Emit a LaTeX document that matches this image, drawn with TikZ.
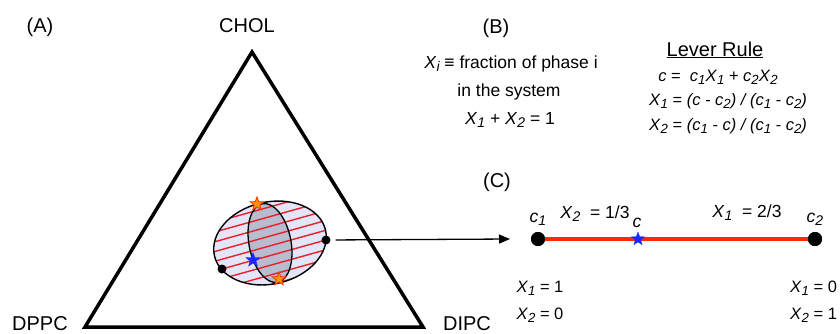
\documentclass[tikz,border=0pt]{standalone}
\usepackage{fontspec}
\setmainfont{Liberation Sans}
\usepackage{graphicx}
\usetikzlibrary{shapes.geometric,arrows.meta}
\definecolor{outerc}{RGB}{226,230,248}
\definecolor{innerc}{RGB}{184,188,207}
\definecolor{stripec}{RGB}{232,32,40}
\definecolor{tiec}{RGB}{252,42,8}
\definecolor{bluec}{RGB}{24,40,255}
\definecolor{orangec}{RGB}{255,150,0}
\definecolor{orangeedge}{RGB}{255,60,0}
\newcommand{\sbi}[1]{\raisebox{-0.38ex}{\scalebox{0.8}{\itshape #1}}}
\newcommand{\vX}[1]{\textit{X}\sbi{#1}}
\newcommand{\vc}[1]{\textit{c}\sbi{#1}}
\begin{document}
\begin{tikzpicture}[x=1pt,y=-1pt,
  biglab/.style={font=\fontsize{20}{24}\selectfont, inner sep=0pt, anchor=base},
  btext/.style={font=\fontsize{16.5}{20}\selectfont, inner sep=0pt, anchor=base},
  bltext/.style={font=\fontsize{17.5}{21}\selectfont, inner sep=0pt, anchor=base},
  ctext/.style={font=\fontsize{17.5}{21}\selectfont, inner sep=0pt, anchor=base},
  dot/.style={circle, fill=black, inner sep=0pt, minimum size=#1},
  stripe/.style={draw=stripec, line width=1.4pt},
  ostar/.style={star, star points=5, star point ratio=2.4, fill=orangec, draw=orangeedge, line width=0.9pt, minimum size=14pt, inner sep=0pt},
  bstar/.style={star, star points=5, star point ratio=2.4, fill=bluec, draw=bluec, line width=0.3pt, minimum size=#1, inner sep=0pt}
]
\useasboundingbox (0,0) rectangle (840,333);

% panel labels
\node[biglab] (labA) at (40,32) {(A)};
\node[biglab] (labB) at (496,33) {(B)};
\node[biglab] (labC) at (497,187) {(C)};

% triangle
\coordinate (tA) at (252,52);
\coordinate (tL) at (85,327);
\coordinate (tR) at (423,327);
\draw[line width=3.5pt] (tA) -- (tL) -- (tR) -- cycle;
\node[biglab] (chol) at (247,32) {CHOL};
\node[biglab] (dppc) at (40,330) {DPPC};
\node[biglab] (dipc) at (467,330) {DIPC};

% ellipses
\path[fill=outerc, rotate around={13:(270,243)}] (270,243) ellipse [x radius=57pt, y radius=41pt];
\path[fill=innerc, rotate around={11:(270,243)}] (270,243) ellipse [x radius=21pt, y radius=40pt];
\begin{scope}
  \clip[rotate around={13:(270,243)}] (270,243) ellipse [x radius=57pt, y radius=41pt];
  \begin{scope}[rotate around={15.6:(222,269)}]
    \foreach \k in {-6,...,4}
      \draw[stripe] (100,{269+9.4*(\k)}) -- (400,{269+9.4*(\k)});
  \end{scope}
\end{scope}
\draw[line width=1.3pt, rotate around={11:(270,243)}] (270,243) ellipse [x radius=21pt, y radius=40pt];
\draw[line width=1.4pt, rotate around={13:(270,243)}] (270,243) ellipse [x radius=57pt, y radius=41pt];

\node[dot=9pt] (ldot) at (222,269) {};
\node[dot=9pt] (rdot) at (326,240) {};
\node[ostar] (stop) at (257,204) {};
\node[ostar] (sbot) at (279,279) {};
\node[bstar=15pt] (sblue) at (253,260) {};

% arrow
\coordinate (arrEnd) at (510,239);
\draw[line width=1.3pt, -{Triangle[length=11pt,width=9pt]}, shorten <=5pt] (rdot) -- (arrEnd);

% tie line (C)
\node[dot=14pt] (c1) at (538,239) {};
\node[dot=14pt] (c2) at (815,239) {};
\draw[tiec, line width=3.5pt] (c1) -- (c2);
\node[dot=14pt] at (c1) {};
\node[dot=14pt] at (c2) {};
\node[bstar=14pt] (cstar) at (638,239) {};

\node[ctext] (c1lab) at (538,222) {\vc{1}};
\node[ctext] (x2third) at (595,218) {\vX{2}\ \ = 1/3};
\node[ctext] (clab) at (637,227) {\textit{c}};
\node[ctext] (x1twothird) at (747,217) {\vX{1}\ \ = 2/3};
\node[ctext] (c2lab) at (815,222) {\vc{2}};

\node[btext] (l1a) at (540,292) {\vX{1} = 1};
\node[btext] (l1b) at (540,319) {\vX{2} = 0};
\node[btext, anchor=base west] (l2a) at (790,292) {\vX{1} = 0};
\node[btext, anchor=base west] (l2b) at (790,319) {\vX{2} = 1};

% (B) texts
\node[bltext] (b1) at (511,68) {\vX{i} ≡ fraction of phase i};
\node[bltext] (b2) at (509,96) {in the system};
\node[bltext] (b3) at (510,124) {\vX{1} + \vX{2} = 1};

\node[biglab] (lever) at (715,56) {\underline{Lever Rule}};
\node[btext] (eq0) at (718,81) {\textit{c} =\ \ \vc{1}\vX{1} + \vc{2}\vX{2}};
\node[btext] (eq1) at (728,105) {\vX{1} = \textit{(c - \vc{2}) / (\vc{1} - \vc{2})}};
\node[btext] (eq2) at (728,130) {\vX{2} = \textit{(\vc{1} - c) / (\vc{1} - \vc{2})}};
\end{tikzpicture}
\end{document}
